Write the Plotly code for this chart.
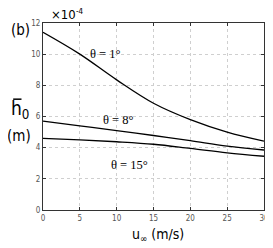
import plotly.graph_objects as go

u = [0, 5, 10, 15, 20, 25, 30]
h_theta1 = [11.4, 10.0, 8.35, 6.85, 5.8, 5.0, 4.42]
h_theta8 = [5.7, 5.4, 5.1, 4.78, 4.45, 4.1, 3.85]
h_theta15 = [4.6, 4.5, 4.38, 4.22, 3.95, 3.67, 3.45]
series = [("θ = 1°", h_theta1), ("θ = 8°", h_theta8), ("θ = 15°", h_theta15)]
label_pos = [(8.46, 10.04), (10.2, 5.77), (11.77, 2.88)]

# page is offset by the 8px body margin
OFF = 8
W, H = 273 - OFF, 248 - OFF
# plot area in page pixels
PX0, PX1, PY0, PY1 = 43, 269, 22.7, 210
ml, mr, mt, mb = PX0 - OFF, (OFF + W) - PX1, PY0 - OFF, (OFF + H) - PY1
PW, PH = PX1 - PX0, PY1 - PY0


def px(x):
    return (x - PX0) / PW


def py(y):
    return (PY1 - y) / PH


fig = go.Figure()
for name, ys in series:
    fig.add_trace(go.Scatter(x=u, y=ys, mode="lines",
                             line=dict(color="black", width=1.3, shape="spline", smoothing=1.0),
                             showlegend=False, name=name))

for (name, _), (lx, ly) in zip(series, label_pos):
    fig.add_annotation(x=lx, y=ly, text=name, showarrow=False,
                       font=dict(family="Liberation Serif", size=12.5, color="black"))

tickfont = dict(family="Liberation Sans Narrow, DejaVu Sans Condensed", size=8, color="#555")
common = dict(ticks="inside", ticklen=3, tickcolor="#333",
              showgrid=True, gridcolor="#cfcfcf", griddash="dot", gridwidth=1,
              showline=True, linecolor="#333", linewidth=1.2, mirror="ticks",
              tickfont=tickfont, zeroline=False, ticklabeloverflow="allow")
fig.update_xaxes(range=[0, 30], tickvals=[0, 5, 10, 15, 20, 25, 30], **common)
fig.update_yaxes(range=[0, 12], tickvals=[0, 2, 4, 6, 8, 10, 12], **common)

lab = dict(family="Liberation Sans Narrow, DejaVu Sans Condensed", color="black")
fig.add_annotation(xref="paper", yref="paper", x=px(8), y=py(30), text="(b)", showarrow=False,
                   font=dict(lab, size=15), xanchor="left", yanchor="middle")
fig.add_annotation(xref="paper", yref="paper", x=px(49), y=py(14.5),
                   text="×10", showarrow=False, font=dict(lab, size=13),
                   xanchor="left", yanchor="middle")
fig.add_annotation(xref="paper", yref="paper", x=px(74.5), y=py(11.5),
                   text="-4", showarrow=False, font=dict(lab, size=8),
                   xanchor="left", yanchor="middle")
# y label h0 with overline
fig.add_annotation(xref="paper", yref="paper", x=px(19), y=py(109), text="h<sub>0</sub>", showarrow=False,
                   font=dict(lab, size=19), xanchor="center", yanchor="middle")
fig.add_shape(type="line", xref="paper", yref="paper",
              x0=px(12.5), x1=px(21), y0=py(99), y1=py(99),
              line=dict(color="black", width=1.5))
fig.add_annotation(xref="paper", yref="paper", x=px(18), y=py(136),
                   text="(m)", showarrow=False, font=dict(lab, size=15),
                   xanchor="center", yanchor="middle")
fig.add_annotation(xref="paper", yref="paper", x=px(161), y=py(235),
                   text="u<sub>∞</sub> (m/s)", showarrow=False, font=dict(lab, size=14),
                   xanchor="center", yanchor="middle")

fig.update_layout(width=W, height=H, margin=dict(l=ml, r=mr, t=mt, b=mb, pad=0),
                  plot_bgcolor="white", paper_bgcolor="white")
fig.write_html("out.html")
